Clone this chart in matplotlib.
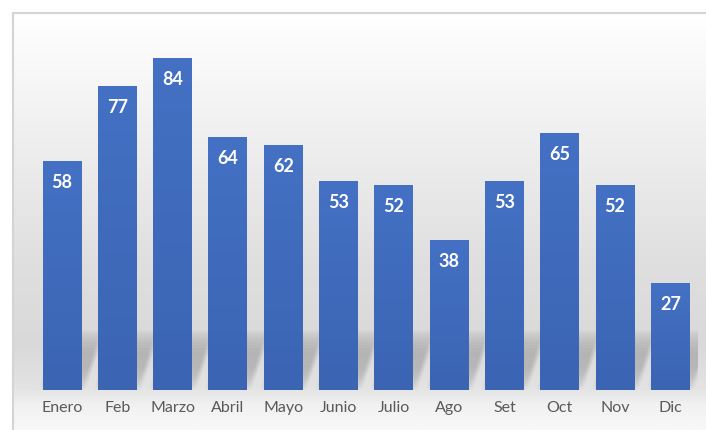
import numpy as np
import matplotlib.pyplot as plt
from matplotlib.colors import LinearSegmentedColormap
from matplotlib.patches import Polygon, Rectangle

meses = ["Enero", "Feb", "Marzo", "Abril", "Mayo", "Junio",
         "Julio", "Ago", "Set", "Oct", "Nov", "Dic"]
valores = [58, 77, 84, 64, 62, 53, 52, 38, 53, 65, 52, 27]

W, H = 706, 430
fig = plt.figure(figsize=(W / 100, H / 100), dpi=100)
fig.patch.set_facecolor("white")

# fondo degradado dentro del marco
bg = fig.add_axes([14 / W, 0, 1 - 14 / W, 1 - 14 / H], zorder=0)
bg_cmap = LinearSegmentedColormap.from_list(
    "bg", [(0.0, "#f8f8f8"), (0.06, "#f1f1f1"), (0.1, "#e3e3e3"),
           (0.2, "#d9d9d9"), (0.4, "#dfdfdf"), (0.7, "#efefef"), (1.0, "#ffffff")])
grad = np.linspace(0, 1, 256).reshape(-1, 1)
bg.imshow(grad, aspect="auto", cmap=bg_cmap, origin="lower", extent=[0, 1, 0, 1])
bg.set_axis_off()

# marco
fig.patches.append(Rectangle((13 / W, -0.01), 1.0, 1 - 13 / H + 0.01,
                             transform=fig.transFigure, fill=False,
                             edgecolor="#d4d4d4", linewidth=1.5, zorder=1))

ax = fig.add_axes([34.4 / W, 40 / H, 663.6 / W, 378 / H], zorder=2)
ax.patch.set_alpha(0)
x = np.arange(len(meses))
width = 0.705
ax.set_xlim(-0.5, len(meses) - 0.5)
ax.set_ylim(0, 95.7)

# sombras inclinadas y difusas detras de las barras
n_slices = 24
top = 15.0
skew = 0.34
for xi, v in zip(x, valores):
    h = min(v, top)
    for j in range(n_slices):
        ya, yb = h * j / n_slices, h * (j + 1) / n_slices
        t = (j + 0.5) / n_slices
        a = 0.10 * np.sin(np.pi * t) ** 0.8
        for k in range(4):
            g = 0.025 * k
            poly = Polygon([(xi - width / 2 + skew * ya / top - g, ya),
                            (xi + width / 2 + skew * ya / top + g, ya),
                            (xi + width / 2 + skew * yb / top + g, yb),
                            (xi - width / 2 + skew * yb / top - g, yb)],
                           closed=True, facecolor="#6f6f6f", edgecolor="none",
                           alpha=a, zorder=1)
            ax.add_patch(poly)

bars = ax.bar(x, valores, width=width, color="#4472c4", zorder=2)

bar_cmap = LinearSegmentedColormap.from_list("barra", ["#3b64b3", "#4471c4"])
for b in bars:
    x0, y0 = b.get_x(), b.get_y()
    img = ax.imshow(grad, aspect="auto", cmap=bar_cmap, origin="lower",
                    extent=[x0, x0 + b.get_width(), y0, y0 + b.get_height()],
                    zorder=3)
    img.set_clip_path(b)

for xi, v in zip(x, valores):
    ax.annotate(str(v), (xi, v), xytext=(0, -15.5), textcoords="offset points",
                ha="center", va="center", color="white", fontsize=13,
                fontweight="bold", family="Lato", zorder=4)

ax.set_xticks(x)
ax.set_xticklabels(meses, fontsize=11.5, color="#595959", family="Lato")
ax.tick_params(axis="x", length=0, pad=8)
ax.set_yticks([])
for s in ax.spines.values():
    s.set_visible(False)

fig.savefig("out.png", dpi=100)
